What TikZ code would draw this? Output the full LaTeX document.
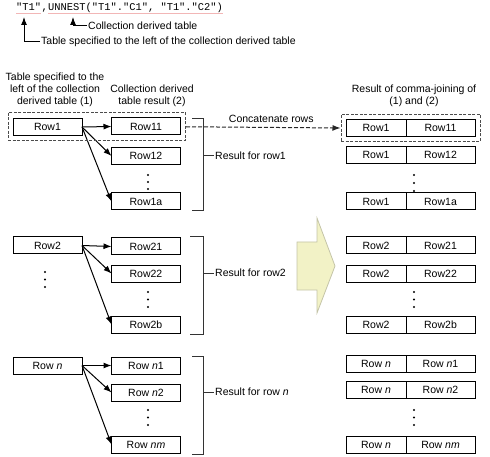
\documentclass[tikz,border=0pt]{standalone}
\usepackage{fontspec}
\setmainfont{Liberation Sans}
\setmonofont{Liberation Mono}
\usetikzlibrary{positioning, arrows.meta, fit}

\definecolor{marklinecol}{HTML}{F2B6B6}
\definecolor{bigarrowfill}{HTML}{F2F2C6}
\definecolor{bigarrowdraw}{HTML}{C4C4A8}

\begin{document}
\begin{tikzpicture}[x=1pt, y=-1pt,
    font=\fontsize{10.5}{12}\selectfont,
    rowbox/.style={draw, line width=1pt, minimum width=69pt, minimum height=17pt, inner sep=0pt, outer sep=0pt},
    celll/.style={rowbox, minimum width=60pt},
    cellr/.style={rowbox, minimum width=69pt},
    selbox/.style={draw=black!70, dash pattern=on 3pt off 1.5pt, line width=1pt, inner sep=5pt},
    bracketline/.style={draw=black!80, line width=1pt},
    rowarrow/.style={-{Latex[length=8pt, width=6pt]}, line width=1pt},
    dasharrow/.style={rowarrow, dash pattern=on 4pt off 2pt, draw=black!85},
    codetext/.style={font=\fontsize{10.4}{12}\selectfont\ttfamily, inner sep=0pt},
    marking/.style={draw=marklinecol, line width=1.2pt}]
    \useasboundingbox (0,0) rectangle (490,457);

    % SQL fragment with its pointers
    \node[codetext, anchor=west] (codet) at (16,7) {"T1"};
    \node[codetext, base right=0pt of codet] (codecomma) {,};
    \node[codetext, base right=0pt of codecomma] (codeunnest) {UNNEST("T1"."C1", "T1"."C2")};
    \draw[marking] ([yshift=-2.5pt]codet.base west) -- ([yshift=-2.5pt]codet.base east);
    \draw[marking] ([yshift=-2.5pt]codeunnest.base west) -- ([yshift=-2.5pt]codeunnest.base east);
    \coordinate (tipt) at (24,17);
    \coordinate (tipu) at (73,17);
    \node[anchor=west, inner sep=1pt] (lblcoll) at (87,25.5) {Collection derived table};
    \node[anchor=west, inner sep=1pt] (lbltable) at (40,41.5) {Table specified to the left of the collection derived table};
    \draw[rowarrow] (lblcoll.west) -| (tipu);
    \draw[rowarrow] (lbltable.west) -| (tipt);

    % column headings
    \node[align=center] (hleft) at (55,90) {Table specified to the\\left of the collection\\derived table (1)};
    \node[align=center] (hmid) at (152,96) {Collection derived\\table result (2)};
    \node[align=center] (hright) at (414,96) {Result of comma-joining of\\(1) and (2)};

    % rows of the left table
    \node[rowbox] (row1) at (47.5,127) {Row1};
    \node[rowbox] (row2) at (47.5,245.5) {Row2};
    \node[rowbox] (rown) at (47.5,365.5) {Row \textit{n}};
    \fill (45,272) circle (1.2pt) (45,279.5) circle (1.2pt) (45,287) circle (1.2pt);

    % rows of the collection derived table
    \node[rowbox] (row11) at (146,126.5) {Row11};
    \node[rowbox] (row12) at (146,156) {Row12};
    \node[rowbox] (row1a) at (146,201.5) {Row1a};
    \node[rowbox] (row21) at (146,246.5) {Row21};
    \node[rowbox] (row22) at (146,273.5) {Row22};
    \node[rowbox] (row2b) at (146,324.5) {Row2b};
    \node[rowbox] (rown1) at (146,365.5) {Row \textit{n}1};
    \node[rowbox] (rown2) at (146,392.5) {Row \textit{n}2};
    \node[rowbox] (rownm) at (146,444.5) {Row \textit{nm}};
    \fill (148,175) circle (1.2pt) (148,182) circle (1.2pt) (148,189) circle (1.2pt);
    \fill (148,292) circle (1.2pt) (148,299.5) circle (1.2pt) (148,307) circle (1.2pt);
    \fill (148,410) circle (1.2pt) (148,417.5) circle (1.2pt) (148,425) circle (1.2pt);

    \draw[rowarrow] (row1.east) -- (row11.west);
    \draw[rowarrow] (row1.east) -- (row12.west);
    \draw[rowarrow] (row1.east) -- (row1a.west);
    \draw[rowarrow] (row2.east) -- (row21.west);
    \draw[rowarrow] (row2.east) -- (row22.west);
    \draw[rowarrow] (row2.east) -- (row2b.west);
    \draw[rowarrow] (rown.east) -- (rown1.west);
    \draw[rowarrow] (rown.east) -- (rown2.west);
    \draw[rowarrow] (rown.east) -- (rownm.west);

    % brackets for each row's result
    \draw[bracketline] (192,119) -- (203,119) -- (203,211) -- (192,211);
    \coordinate (br1) at (203,156);
    \node[anchor=west, inner sep=1pt] (res1) at (214,156) {Result for row1};
    \draw[bracketline] (br1) -- (res1.west);
    \draw[bracketline] (190,237) -- (203,237) -- (203,334) -- (190,334);
    \coordinate (br2) at (203,273);
    \node[anchor=west, inner sep=1pt] (res2) at (214,273) {Result for row2};
    \draw[bracketline] (br2) -- (res2.west);
    \draw[bracketline] (192,356) -- (203,356) -- (203,454) -- (192,454);
    \coordinate (br3) at (203,392);
    \node[anchor=west, inner sep=1pt] (res3) at (214,392) {Result for row \textit{n}};
    \draw[bracketline] (br3) -- (res3.west);

    % rows of the comma-joined result
    \node[celll] (j11l) at (376,128) {Row1};
    \node[cellr, right=0pt of j11l] (j11r) {Row11};
    \node[celll] (j12l) at (376,155) {Row1};
    \node[cellr, right=0pt of j12l] (j12r) {Row12};
    \node[celll] (j1al) at (376,201.5) {Row1};
    \node[cellr, right=0pt of j1al] (j1ar) {Row1a};
    \node[celll] (j21l) at (376,245.5) {Row2};
    \node[cellr, right=0pt of j21l] (j21r) {Row21};
    \node[celll] (j22l) at (376,274) {Row2};
    \node[cellr, right=0pt of j22l] (j22r) {Row22};
    \node[celll] (j2bl) at (376,325) {Row2};
    \node[cellr, right=0pt of j2bl] (j2br) {Row2b};
    \node[celll] (jn1l) at (376,363.5) {Row \textit{n}};
    \node[cellr, right=0pt of jn1l] (jn1r) {Row \textit{n}1};
    \node[celll] (jn2l) at (376,390) {Row \textit{n}};
    \node[cellr, right=0pt of jn2l] (jn2r) {Row \textit{n}2};
    \node[celll] (jnml) at (376,445) {Row \textit{n}};
    \node[cellr, right=0pt of jnml] (jnmr) {Row \textit{nm}};
    \fill (414,175) circle (1.2pt) (414,183) circle (1.2pt) (414,191) circle (1.2pt);
    \fill (414,292) circle (1.2pt) (414,299.5) circle (1.2pt) (414,307) circle (1.2pt);
    \fill (414,410) circle (1.2pt) (414,417.5) circle (1.2pt) (414,425) circle (1.2pt);

    % the first pair of rows is concatenated
    \node[selbox, fit=(row1)(row11)] (selleft) {};
    \node[selbox, fit=(j11l)(j11r)] (selright) {};
    \draw[dasharrow] (selleft.east) -- node[above=1pt, xshift=8pt] {Concatenate rows} (selright.west);

    % big arrow
    \draw[draw=bigarrowdraw, fill=bigarrowfill, line width=0.8pt] (297,242) -- (317,242) -- (317,218) -- (335,266) -- (317,313) -- (317,290) -- (297,290) -- cycle;
\end{tikzpicture}
\end{document}
